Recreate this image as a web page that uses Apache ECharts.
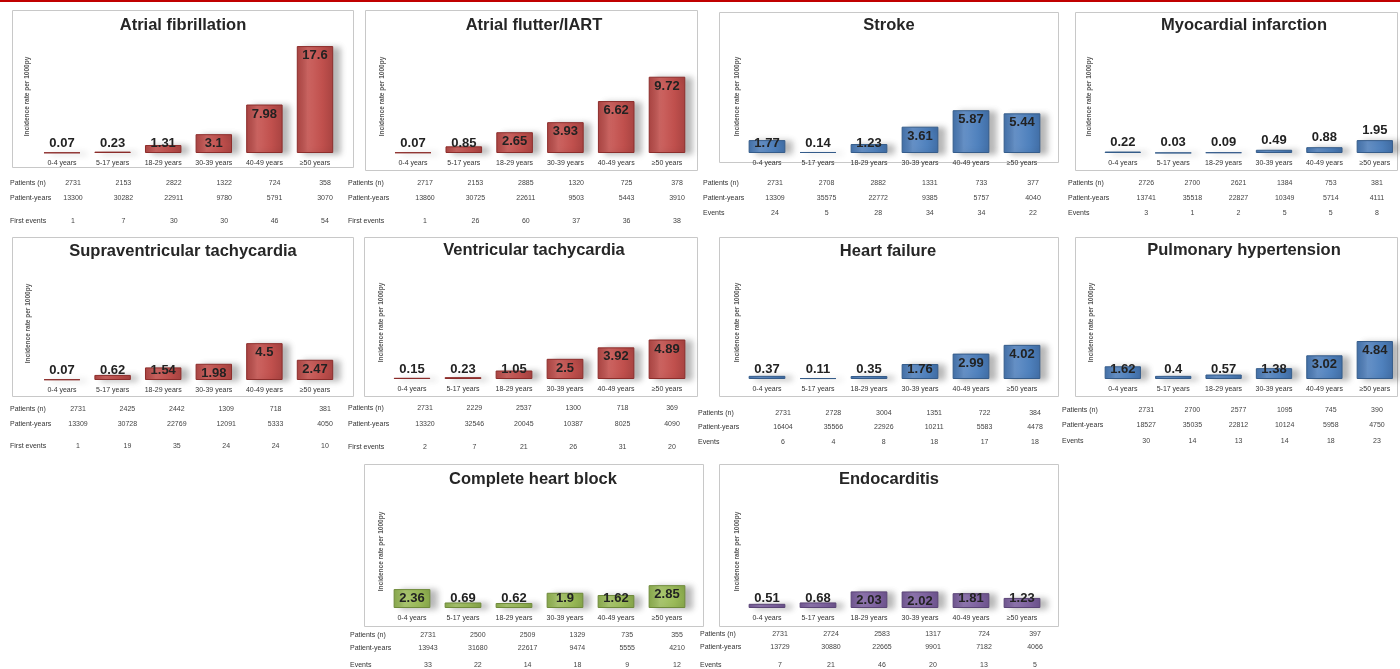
<!DOCTYPE html>
<html><head><meta charset="utf-8">
<script src="https://cdn.jsdelivr.net/npm/echarts@6/dist/echarts.min.js"></script>
<style>html,body{margin:0;padding:0;background:#fff}#c{width:1400px;height:669px}</style>
</head><body><div id="c"></div>
<script>
const ageGroups = ['0-4 years','5-17 years','18-29 years','30-39 years','40-49 years','≥50 years'];
const yAxisName = 'Incidence rate per 1000py';

const afRates = [0.07,0.23,1.31,3.1,7.98,17.6];
const afPatients = [2731,2153,2822,1322,724,358];
const afPatientYears = [13300,30282,22911,9780,5791,3070];
const afEvents = [1,7,30,30,46,54];

const aflRates = [0.07,0.85,2.65,3.93,6.62,9.72];
const aflPatients = [2717,2153,2885,1320,725,378];
const aflPatientYears = [13860,30725,22611,9503,5443,3910];
const aflEvents = [1,26,60,37,36,38];

const strokeRates = [1.77,0.14,1.23,3.61,5.87,5.44];
const strokePatients = [2731,2708,2882,1331,733,377];
const strokePatientYears = [13309,35575,22772,9385,5757,4040];
const strokeEvents = [24,5,28,34,34,22];

const miRates = [0.22,0.03,0.09,0.49,0.88,1.95];
const miPatients = [2726,2700,2621,1384,753,381];
const miPatientYears = [13741,35518,22827,10349,5714,4111];
const miEvents = [3,1,2,5,5,8];

const svtRates = [0.07,0.62,1.54,1.98,4.5,2.47];
const svtPatients = [2731,2425,2442,1309,718,381];
const svtPatientYears = [13309,30728,22769,12091,5333,4050];
const svtEvents = [1,19,35,24,24,10];

const vtRates = [0.15,0.23,1.05,2.5,3.92,4.89];
const vtPatients = [2731,2229,2537,1300,718,369];
const vtPatientYears = [13320,32546,20045,10387,8025,4090];
const vtEvents = [2,7,21,26,31,20];

const hfRates = [0.37,0.11,0.35,1.76,2.99,4.02];
const hfPatients = [2731,2728,3004,1351,722,384];
const hfPatientYears = [16404,35566,22926,10211,5583,4478];
const hfEvents = [6,4,8,18,17,18];

const phRates = [1.62,0.4,0.57,1.38,3.02,4.84];
const phPatients = [2731,2700,2577,1095,745,390];
const phPatientYears = [18527,35035,22812,10124,5958,4750];
const phEvents = [30,14,13,14,18,23];

const chbRates = [2.36,0.69,0.62,1.9,1.62,2.85];
const chbPatients = [2731,2500,2509,1329,735,355];
const chbPatientYears = [13943,31680,22617,9474,5555,4210];
const chbEvents = [33,22,14,18,9,12];

const endoRates = [0.51,0.68,2.03,2.02,1.81,1.23];
const endoPatients = [2731,2724,2583,1317,724,397];
const endoPatientYears = [13729,30880,22665,9901,7182,4066];
const endoEvents = [7,21,46,20,13,5];

const panels = [
  {title:'Atrial fibrillation', rates:afRates, patients:afPatients, py:afPatientYears, events:afEvents, evLabel:'First events', color:'red'},
  {title:'Atrial flutter/IART', rates:aflRates, patients:aflPatients, py:aflPatientYears, events:aflEvents, evLabel:'First events', color:'red'},
  {title:'Stroke', rates:strokeRates, patients:strokePatients, py:strokePatientYears, events:strokeEvents, evLabel:'Events', color:'blue'},
  {title:'Myocardial infarction', rates:miRates, patients:miPatients, py:miPatientYears, events:miEvents, evLabel:'Events', color:'blue', outside:true},
  {title:'Supraventricular tachycardia', rates:svtRates, patients:svtPatients, py:svtPatientYears, events:svtEvents, evLabel:'First events', color:'red'},
  {title:'Ventricular tachycardia', rates:vtRates, patients:vtPatients, py:vtPatientYears, events:vtEvents, evLabel:'First events', color:'red'},
  {title:'Heart failure', rates:hfRates, patients:hfPatients, py:hfPatientYears, events:hfEvents, evLabel:'Events', color:'blue'},
  {title:'Pulmonary hypertension', rates:phRates, patients:phPatients, py:phPatientYears, events:phEvents, evLabel:'Events', color:'blue'},
  {title:'Complete heart block', rates:chbRates, patients:chbPatients, py:chbPatientYears, events:chbEvents, evLabel:'Events', color:'green'},
  {title:'Endocarditis', rates:endoRates, patients:endoPatients, py:endoPatientYears, events:endoEvents, evLabel:'Events', color:'purple'}
];

// layout (pixels)
const layout = [
  {box:[12,10,353,167], c0:62, c1:315, base:153, yMax:18.6, tx:183, ty:25, nameX:28, t0:73, t1:325, rowX:10, rows:[183,198,221]},
  {box:[365,10,697,170], c0:413, c1:667, base:153, yMax:14.4, tx:534, ty:25, nameX:383, t0:425, t1:677, rowX:348, rows:[183,198,221]},
  {box:[719,12,1058,162], c0:767, c1:1022, base:153, yMax:15.5, tx:889, ty:25, nameX:738, t0:775, t1:1033, rowX:703, rows:[183,198,213]},
  {box:[1075,12,1397,170], c0:1123, c1:1377, base:153, yMax:17.1, tx:1244, ty:25, nameX:1090, t0:1147, t1:1385, rowX:1068, rows:[183,198,213]},
  {box:[12,237,353,396], c0:62, c1:315, base:380, yMax:13.8, tx:183, ty:251, nameX:29, t0:78, t1:325, rowX:10, rows:[409,424,446]},
  {box:[364,237,697,396], c0:412, c1:667, base:379, yMax:14.0, tx:534, ty:250, nameX:382, t0:425, t1:672, rowX:348, rows:[408,424,447]},
  {box:[719,237,1058,396], c0:767, c1:1022, base:379, yMax:13.3, tx:888, ty:251, nameX:738, t0:783, t1:1035, rowX:698, rows:[413,427,442]},
  {box:[1075,237,1397,396], c0:1123, c1:1377, base:379, yMax:14.4, tx:1244, ty:250, nameX:1092, t0:1147, t1:1385, rowX:1062, rows:[410,425,441]},
  {box:[364,464,703,626], c0:412, c1:667, base:608, yMax:14.1, tx:533, ty:479, nameX:382, t0:428, t1:677, rowX:350, rows:[635,648,665]},
  {box:[719,464,1058,626], c0:767, c1:1022, base:608, yMax:13.8, tx:889, ty:479, nameX:738, t0:780, t1:1035, rowX:700, rows:[635,648,666]}
];

const palette = {
  red:    {main:'#c0504d', light:'#cd6562', dark:'#a84341', border:'#8c2d2b'},
  blue:   {main:'#4f81bd', light:'#6792c8', dark:'#416ea6', border:'#355c8a'},
  green:  {main:'#9bbb59', light:'#abc771', dark:'#86a64a', border:'#6f8a3b'},
  purple: {main:'#8064a2', light:'#9077b0', dark:'#6d548d', border:'#5a4476'}
};

const FONT = 'Liberation Sans, Arial, sans-serif';
const PLOT_H = 113;

const grid = [], xAxis = [], yAxis = [], series = [], title = [], graphic = [];

graphic.push({type:'rect', shape:{x:0,y:0,width:1400,height:2}, style:{fill:'#c00000'}, z:10});

panels.forEach((p, i) => {
  const L = layout[i];
  const pal = palette[p.color];
  graphic.push({type:'rect', shape:{x:L.box[0]+0.5, y:L.box[1]+0.5, width:L.box[2]-L.box[0], height:L.box[3]-L.box[1]},
    style:{fill:'none', stroke:'#c8c8c8', lineWidth:1}, z:0});
  title.push({text:p.title, left:L.tx, top:L.ty-8, textAlign:'center', padding:0,
    textStyle:{fontSize:16.5, fontWeight:'bold', color:'#262626', fontFamily:FONT}});

  const sp = (L.c1 - L.c0) / 5;
  const gi = grid.length;
  grid.push({left:L.c0 - sp/2, width:sp*6, top:L.base - PLOT_H, height:PLOT_H, containLabel:false});
  xAxis.push({type:'category', gridIndex:gi, data:ageGroups,
    axisLine:{show:false}, axisTick:{show:false},
    axisLabel:{interval:0, fontSize:7, color:'#333', margin:7, fontFamily:FONT}});
  yAxis.push({type:'value', gridIndex:gi, min:0, max:L.yMax,
    axisLine:{show:false}, axisTick:{show:false}, axisLabel:{show:false}, splitLine:{show:false},
    name:yAxisName, nameLocation:'middle', nameRotate:90, nameGap:(L.c0 - sp/2) - L.nameX - 3,
    nameTextStyle:{fontSize:6.5, color:'#555', fontWeight:'bold', fontFamily:FONT}});
  const xi = xAxis.length - 1, yi = yAxis.length - 1;
  series.push({type:'bar', xAxisIndex:xi, yAxisIndex:yi, barCategoryGap:'28%',
    data:p.rates.map(v => {
      const px = v / L.yMax * PLOT_H;
      let pos;
      if (p.outside) pos = 'top';
      else pos = px < 16 ? 'insideBottom' : 'insideTop';
      return {value:v, label:{position:pos}};
    }),
    itemStyle:{
      color:new echarts.graphic.LinearGradient(0,0,1,0,[
        {offset:0, color:pal.dark},{offset:0.3, color:pal.light},{offset:0.7, color:pal.main},{offset:1, color:pal.dark}]),
      borderColor:pal.border, borderWidth:1,
      shadowColor:'rgba(0,0,0,0.28)', shadowBlur:6, shadowOffsetX:7, shadowOffsetY:1
    },
    label:{show:true, distance:3, fontSize:13, fontWeight:'bold', color:'#222', fontFamily:FONT},
    silent:true, animation:false});

  const tsp = (L.t1 - L.t0) / 5;
  const ti = grid.length;
  const tLeft = L.t0 - tsp/2;
  grid.push({left:tLeft, width:tsp*6, top:L.rows[0]-1, height:1});
  yAxis.push({type:'value', gridIndex:ti, show:false, min:0, max:1});
  const rowDefs = [['Patients (n)', p.patients], ['Patient-years', p.py], [p.evLabel, p.events]];
  rowDefs.forEach((r, k) => {
    xAxis.push({type:'category', gridIndex:ti, position:'bottom', offset:L.rows[k] - L.rows[0],
      data:r[1].map(String),
      axisLine:{show:false, onZero:false}, axisTick:{show:false},
      axisLabel:{interval:0, fontSize:7, color:'#444', margin:0, verticalAlign:'middle', fontFamily:FONT},
      name:r[0], nameLocation:'start', nameGap:tLeft - L.rowX,
      nameTextStyle:{fontSize:7, color:'#333', align:'left', verticalAlign:'middle', fontFamily:FONT}});
  });
});

const chart = echarts.init(document.getElementById('c'), null, {renderer:'canvas'});
chart.setOption({animation:false, backgroundColor:'#fff', title, grid, xAxis, yAxis, series, graphic});
</script>
</body></html>
